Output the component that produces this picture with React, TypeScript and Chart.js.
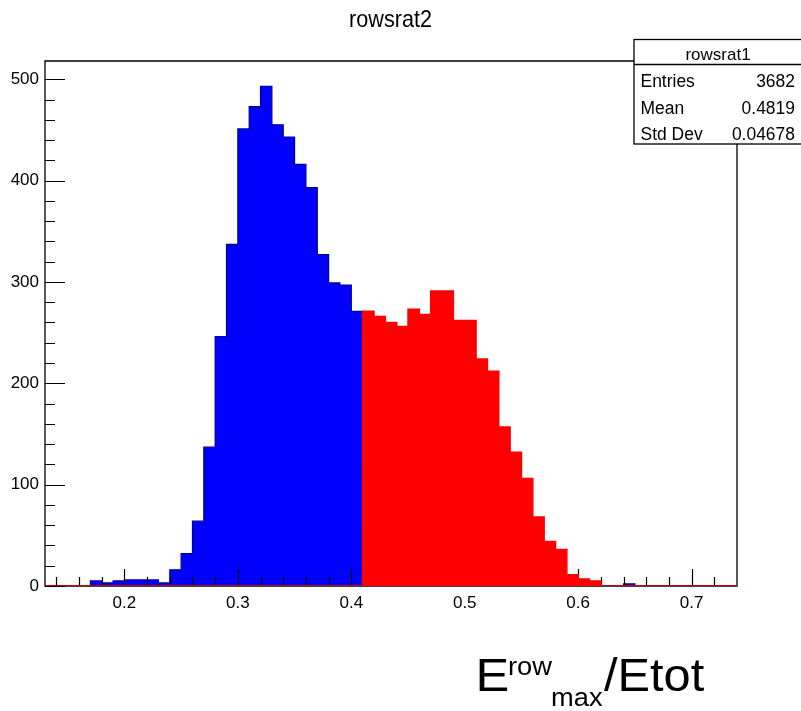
import React, { useEffect, useRef } from "react";
import { Chart, registerables } from "chart.js";

Chart.register(...registerables);

// ---- data ----
const binLowEdges = [
  0.13, 0.14, 0.15, 0.16, 0.17, 0.18, 0.19, 0.2, 0.21, 0.22,
  0.23, 0.24, 0.25, 0.26, 0.27, 0.28, 0.29, 0.3, 0.31, 0.32,
  0.33, 0.34, 0.35, 0.36, 0.37, 0.38, 0.39, 0.4, 0.41, 0.42,
  0.43, 0.44, 0.45, 0.46, 0.47, 0.48, 0.49, 0.5, 0.51, 0.52,
  0.53, 0.54, 0.55, 0.56, 0.57, 0.58, 0.59, 0.6, 0.61, 0.62,
  0.63, 0.64, 0.65, 0.66, 0.67, 0.68, 0.69, 0.7, 0.71, 0.72,
  0.73,
];
const X_MIN = 0.13;
const X_MAX = 0.74;
const Y_MAX = 518;

// rowsrat2 (blue)
const blueCounts = [
  0, 0, 0, 0, 5, 3, 5, 6, 6, 6,
  3, 16, 32, 64, 137, 246, 337, 451, 473, 493,
  455, 443, 416, 393, 327, 299, 297, 271, 0, 0,
  0, 0, 0, 0, 0, 0, 0, 0, 0, 0,
  0, 0, 0, 0, 0, 0, 0, 0, 0, 0,
  0, 2, 0, 0, 0, 0, 0, 0, 0, 0,
  0,
];
// rowsrat1 (red)
const redCounts = [
  0, 0, 0, 0, 0, 0, 0, 0, 0, 0,
  0, 0, 0, 0, 0, 0, 0, 0, 0, 0,
  0, 0, 0, 0, 0, 0, 0, 0, 271, 266,
  260, 256, 273, 268, 291, 291, 262, 262, 224, 212,
  157, 132, 106, 68, 44, 36, 11, 7, 5, 0,
  0, 0, 0, 0, 0, 0, 0, 0, 0, 0,
  0,
];

const xTickValues = [0.2, 0.3, 0.4, 0.5, 0.6, 0.7];
const xMinorStep = 0.02;
const yTickValues = [0, 100, 200, 300, 400, 500];
const yMinorStep = 20;

const titleText = "rowsrat2";
const statsTitle = "rowsrat1";
const statsLabels = ["Entries", "Mean", "Std Dev"];
const statsValues = ["3682", "0.4819", "0.04678"];

const FONT = "'Liberation Sans', Arial, Helvetica, sans-serif";

function stepPoints(counts: number[]) {
  const pts = binLowEdges.map((e, i) => ({ x: e, y: counts[i] }));
  pts.push({ x: X_MAX, y: counts[counts.length - 1] });
  return pts;
}

function drawText(
  ctx: CanvasRenderingContext2D,
  text: string,
  x: number,
  y: number,
  size: number,
  sx: number,
  align: CanvasTextAlign
) {
  ctx.save();
  ctx.font = `${size}px ${FONT}`;
  ctx.fillStyle = "#000";
  ctx.textAlign = align;
  ctx.textBaseline = "alphabetic";
  ctx.translate(x, y);
  ctx.scale(sx, 1);
  ctx.fillText(text, 0, 0);
  ctx.restore();
}

const rootPlugin = {
  id: "rootStyle",
  afterDatasetDraw(chart: any, args: any) {
    // axes frame & ticks drawn after the first (blue) histogram, under the red one
    if (args.meta.order !== 1) return;
    const ctx: CanvasRenderingContext2D = chart.ctx;
    const a = chart.chartArea;
    const xs = chart.scales.x;
    const ys = chart.scales.y;
    ctx.save();
    ctx.strokeStyle = "#000";
    ctx.lineWidth = 1.3;
    ctx.beginPath();
    ctx.moveTo(a.left, a.bottom);
    ctx.lineTo(a.right, a.bottom);
    ctx.lineTo(a.right, a.top);
    ctx.lineTo(a.left, a.top);
    ctx.closePath();
    ctx.stroke();
    ctx.lineWidth = 1.2;
    ctx.beginPath();
    // x ticks (inside, pointing up)
    for (let v = 0.14; v < X_MAX - 1e-9; v += xMinorStep) {
      const vv = Math.round(v * 100) / 100;
      const px = Math.round(xs.getPixelForValue(vv)) + 0.5;
      const major = xTickValues.some((t) => Math.abs(t - vv) < 1e-6);
      ctx.moveTo(px, a.bottom);
      ctx.lineTo(px, a.bottom - (major ? 17 : 9));
    }
    // y ticks (inside, pointing right)
    for (let v = 0; v <= Y_MAX; v += yMinorStep) {
      const py = Math.round(ys.getPixelForValue(v)) + 0.5;
      const major = yTickValues.includes(v);
      ctx.moveTo(a.left, py);
      ctx.lineTo(a.left + (major ? 20 : 10), py);
    }
    ctx.stroke();
    ctx.restore();
  },
  afterDatasetsDraw(chart: any) {
    const ctx: CanvasRenderingContext2D = chart.ctx;
    // stats box
    const bx = 634, by = 39.5, bw = 170, bh = 104.5, div = 64.5;
    ctx.save();
    ctx.fillStyle = "#fff";
    ctx.fillRect(bx, by, bw, bh);
    ctx.strokeStyle = "#000";
    ctx.lineWidth = 1.3;
    ctx.strokeRect(bx, by, bw, bh);
    ctx.beginPath();
    ctx.moveTo(bx, div);
    ctx.lineTo(bx + bw, div);
    ctx.stroke();
    ctx.restore();
    drawText(ctx, statsTitle, 718, 59.5, 17, 1.0, "center");
    const baselines = [86.5, 113.5, 140];
    statsLabels.forEach((l, i) => drawText(ctx, l, 640.5, baselines[i], 18, 0.97, "left"));
    statsValues.forEach((v, i) => drawText(ctx, v, 795, baselines[i], 18, 0.97, "right"));

    // title
    drawText(ctx, titleText, 390.5, 26.5, 24, 0.9, "center");

    // x-axis title: E^{row}_{max}/Etot
    drawText(ctx, "E", 475.5, 691, 46, 1.1, "left");
    drawText(ctx, "row", 508, 675, 26, 1.05, "left");
    drawText(ctx, "max", 551, 706, 26, 1.05, "left");
    drawText(ctx, "/Etot", 604, 691, 46, 1.06, "left");
  },
};

export default function App() {
  const canvasRef = useRef<HTMLCanvasElement | null>(null);

  useEffect(() => {
    const canvas = canvasRef.current;
    if (!canvas) return;
    const chart = new Chart(canvas, {
      type: "line",
      data: {
        datasets: [
          {
            label: "rowsrat1",
            data: stepPoints(redCounts),
            stepped: "before",
            fill: "origin",
            backgroundColor: "#ff0000",
            borderColor: "#ff0000",
            borderWidth: 1.5,
            pointRadius: 0,
            tension: 0,
            order: 0,
          },
          {
            label: "rowsrat2",
            data: stepPoints(blueCounts),
            stepped: "before",
            fill: "origin",
            backgroundColor: "#0000ff",
            borderColor: "#000099",
            borderWidth: 1.2,
            pointRadius: 0,
            tension: 0,
            order: 1,
          },
        ],
      },
      options: {
        animation: false,
        responsive: false,
        maintainAspectRatio: false,
        layout: { padding: { top: 61, right: 64, left: 0, bottom: 0 } },
        plugins: {
          legend: { display: false },
          tooltip: { enabled: false },
          title: { display: false },
        },
        scales: {
          x: {
            type: "linear",
            min: X_MIN,
            max: X_MAX,
            grid: { display: false, drawTicks: false },
            border: { display: false },
            afterBuildTicks: (s: any) => {
              s.ticks = xTickValues.map((v) => ({ value: v }));
            },
            afterFit: (s: any) => {
              s.height = 125;
            },
            ticks: {
              color: "#000",
              padding: 7,
              maxRotation: 0,
              autoSkip: false,
              font: { family: FONT, size: 17 },
              callback: (v: any) => Number(v).toFixed(1),
            },
          },
          y: {
            type: "linear",
            min: 0,
            max: Y_MAX,
            grid: { display: false, drawTicks: false },
            border: { display: false },
            afterBuildTicks: (s: any) => {
              s.ticks = yTickValues.map((v) => ({ value: v }));
            },
            afterFit: (s: any) => {
              s.width = 45;
            },
            ticks: {
              color: "#000",
              padding: 6,
              autoSkip: false,
              font: { family: FONT, size: 17 },
              callback: (v: any) => String(v),
            },
          },
        },
      },
      plugins: [rootPlugin],
    });
    return () => chart.destroy();
  }, []);

  return (
    <div style={{ position: "absolute", left: 0, top: 0, width: 801, height: 711, background: "#fff" }}>
      <canvas ref={canvasRef} width={801} height={711} style={{ display: "block" }} />
    </div>
  );
}
